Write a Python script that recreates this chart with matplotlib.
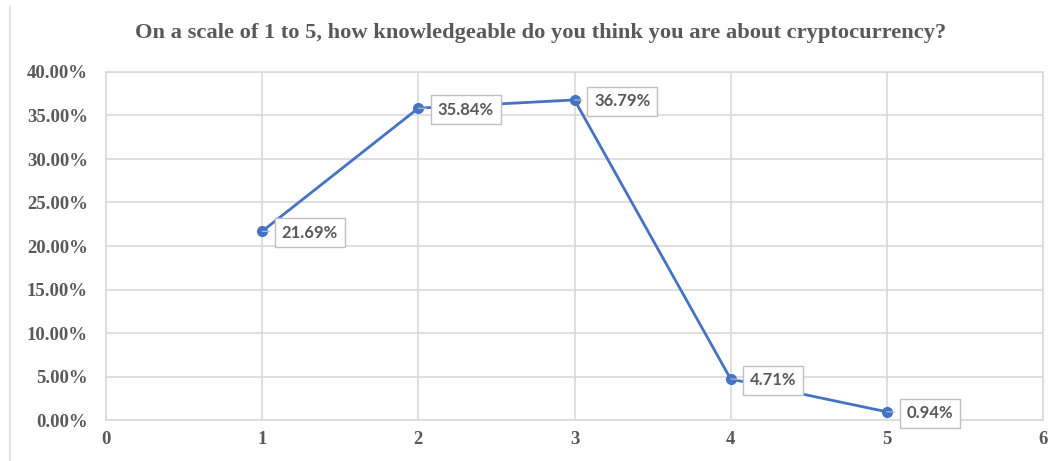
import matplotlib
matplotlib.use("Agg")
import matplotlib.pyplot as plt
from matplotlib.lines import Line2D

# Survey answers: self-rated knowledge (1-5) and share of respondents (%)
scale = [1, 2, 3, 4, 5]
share = [21.69, 35.84, 36.79, 4.71, 0.94]
x_ticks = [0, 1, 2, 3, 4, 5, 6]
y_ticks = [0, 5, 10, 15, 20, 25, 30, 35, 40]
title = "On a scale of 1 to 5, how knowledgeable do you think you are about cryptocurrency?"

BLUE = "#4472C4"
GRID = "#D9D9D9"
TEXT = "#595959"
SERIF = ["Liberation Serif", "DejaVu Serif"]

fig = plt.figure(figsize=(10.57, 4.61), dpi=100)
ax = fig.add_axes([106 / 1057, 1 - 420 / 461, (1043 - 106) / 1057, (420 - 72) / 461])

ax.plot(scale, share, color=BLUE, lw=2, marker="o", ms=7,
        markerfacecolor=BLUE, markeredgecolor=BLUE, zorder=3)

for x, v in zip(scale, share):
    ax.annotate(f"{v:.2f}%", xy=(x, v), xytext=(14, -1), textcoords="offset points",
                ha="left", va="center", fontsize=12, fontweight="bold",
                family=["Lato", "DejaVu Sans"], color=TEXT,
                bbox=dict(boxstyle="square,pad=0.4", fc="white", ec="#BFBFBF", lw=1),
                arrowprops=dict(arrowstyle="-", color="#BFBFBF", lw=0.8,
                                shrinkA=3, shrinkB=0),
                zorder=4)

ax.set_xlim(0, 6)
ax.set_ylim(0, 40)
ax.set_xticks(x_ticks)
ax.set_yticks(y_ticks)
ax.set_xticklabels([str(t) for t in x_ticks])
ax.set_yticklabels([f"{t:.2f}%" for t in y_ticks])
for lbl in ax.get_xticklabels() + ax.get_yticklabels():
    lbl.set_family(SERIF)
    lbl.set_fontweight("bold")
    lbl.set_fontsize(13.5)
    lbl.set_color(TEXT)
ax.tick_params(length=0)
ax.tick_params(axis="x", pad=8)
ax.tick_params(axis="y", pad=13)
ax.grid(True, color=GRID, lw=1.2)
ax.set_axisbelow(True)
for s in ax.spines.values():
    s.set_color(GRID)
    s.set_linewidth(1.2)

fig.text(541 / 1057, 1 - 33 / 461, title, ha="center", va="center",
         family=SERIF, fontweight="bold", fontsize=16.2, color=TEXT)

# thin frame line at the left edge of the figure
fig.add_artist(Line2D([10 / 1057, 10 / 1057], [0, 1 - 7 / 461],
                      transform=fig.transFigure, color="#E3E3E3", lw=1.5))

fig.savefig("out.png", dpi=100)
